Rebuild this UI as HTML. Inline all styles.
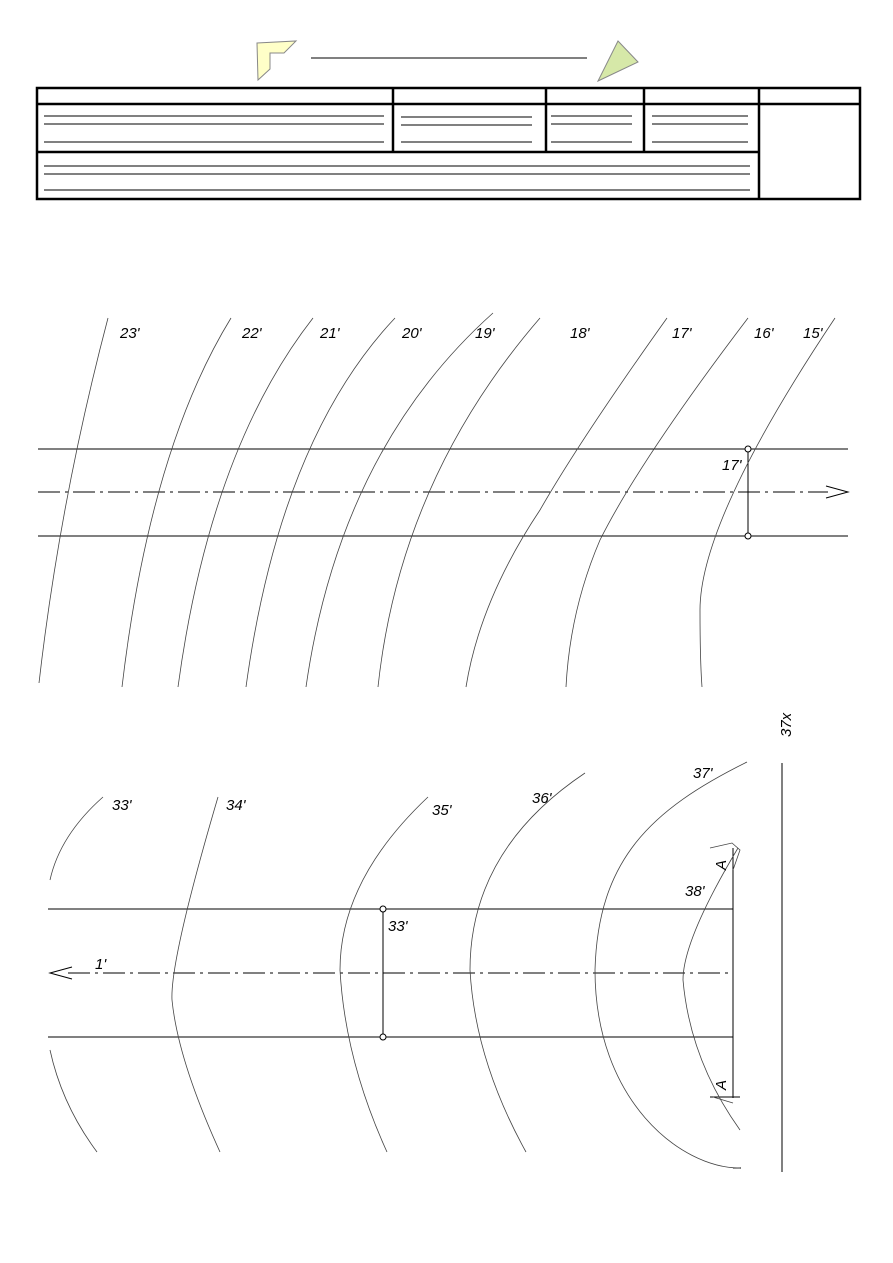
<!DOCTYPE html>
<html><head><style>body{margin:0;background:#fff}svg{display:block}text{font-family:"Liberation Sans",sans-serif;font-style:italic;font-size:15px}</style></head><body>
<svg width="893" height="1263" viewBox="0 0 893 1263" xmlns="http://www.w3.org/2000/svg">
<polygon points="257,43 296,41 284,53 270,53 270,69 258,80" fill="#ffffc8" stroke="#888" stroke-width="1"/>
<polygon points="618,41 638,62 598,81" fill="#d6e8a8" stroke="#888"/>
<line x1="311" y1="58" x2="587" y2="58" stroke="#000"/>
<g stroke="#000" fill="none">
<rect x="37" y="88" width="823" height="111" stroke-width="2.5"/>
<line x1="37" y1="104" x2="860" y2="104" stroke-width="2.5"/>
<line x1="37" y1="152" x2="759" y2="152" stroke-width="2.5"/>
<line x1="393" y1="88" x2="393" y2="152" stroke-width="2.5"/>
<line x1="546" y1="88" x2="546" y2="152" stroke-width="2.5"/>
<line x1="644" y1="88" x2="644" y2="152" stroke-width="2.5"/>
<line x1="759" y1="88" x2="759" y2="199" stroke-width="2.5"/>
<g stroke-width="1">
<path d="M44 116H384M44 124H384M44 142H384M401 117H532M401 125H532M401 142H532M551 116H632M551 124H632M551 142H632M652 116H748M652 124H748M652 142H748M44 166H750M44 174H750M44 190H750"/>
</g>
</g>
<g stroke="#000" fill="none" stroke-width="1">
<line x1="38" y1="449" x2="848" y2="449"/>
<line x1="38" y1="536" x2="848" y2="536"/>
<line x1="38" y1="492" x2="828" y2="492" stroke-dasharray="22,5,3,5"/>
<path d="M826 486L848 492L826 498" />
<line x1="748" y1="449" x2="748" y2="536"/>
<line x1="48" y1="909" x2="733" y2="909"/>
<line x1="48" y1="1037" x2="733" y2="1037"/>
<line x1="68" y1="973" x2="733" y2="973" stroke-dasharray="22,5,3,5"/>
<path d="M72 967L50 973L72 979"/>
<line x1="383" y1="909" x2="383" y2="1037"/>
<line x1="733" y1="848" x2="733" y2="1098"/>
<line x1="710" y1="1097" x2="740" y2="1097"/>
<line x1="782" y1="763" x2="782" y2="1172"/>
<line x1="733" y1="1168" x2="741" y2="1168"/>
</g>
<g fill="#fff" stroke="#000"><circle cx="748" cy="449" r="3"/><circle cx="748" cy="536" r="3"/><circle cx="383" cy="909" r="3"/><circle cx="383" cy="1037" r="3"/></g>
<g stroke="#444" fill="none" stroke-width="0.8">
<path d="M108 318Q60 500 39 683"/>
<path d="M231 318Q150 450 122 687"/>
<path d="M313 318Q210 450 178 687"/>
<path d="M395 318Q280 440 246 687"/>
<path d="M493 313Q340 450 306 687"/>
<path d="M540 318Q400 480 378 687"/>
<path d="M667 318Q580 440 540 510Q480 600 466 687"/>
<path d="M748 318Q640 460 600 540Q570 610 566 687"/>
<path d="M835 318Q700 520 700 610Q700 660 702 687"/>
<path d="M103 797Q60 835 50 880"/>
<path d="M50 1050Q62 1105 97 1152"/>
<path d="M218 797Q170 960 172 1000Q178 1060 220 1152"/>
<path d="M428 797Q340 880 340 970Q345 1060 387 1152"/>
<path d="M585 773Q470 850 470 970Q475 1060 526 1152"/>
<path d="M747 762C650 810 598 860 595 970C595 1100 680 1168 740 1168"/>
<path d="M738 848Q683 940 683 980Q690 1060 740 1130"/>
<path d="M710 848L732 843L740 850L733 870"/>
<path d="M713 1097L733 1103"/>
</g>
<g fill="#000">
<text x="120" y="338">23'</text><text x="242" y="338">22'</text><text x="320" y="338">21'</text><text x="402" y="338">20'</text><text x="475" y="338">19'</text><text x="570" y="338">18'</text><text x="672" y="338">17'</text><text x="754" y="338">16'</text><text x="803" y="338">15'</text>
<text x="722" y="470">17'</text>
<text x="112" y="810">33'</text><text x="226" y="810">34'</text><text x="432" y="815">35'</text><text x="532" y="803">36'</text><text x="693" y="778">37'</text><text x="685" y="896">38'</text>
<text x="388" y="931">33'</text><text x="95" y="969">1'</text>
<text transform="translate(726,870) rotate(-90)">A</text>
<text transform="translate(726,1090) rotate(-90)">A</text>
<text transform="translate(791,737) rotate(-90)">37x</text>
</g>
</svg>
</body></html>
